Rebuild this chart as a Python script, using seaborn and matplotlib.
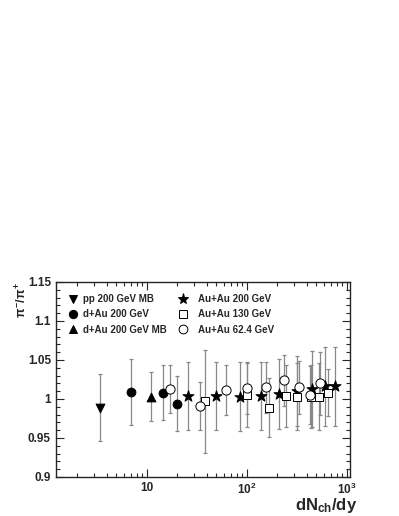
import numpy as np
import pandas as pd
import matplotlib
matplotlib.use("Agg")
import matplotlib.pyplot as plt
from matplotlib.lines import Line2D
from matplotlib.ticker import LogLocator, FixedLocator, MultipleLocator, NullFormatter
import seaborn as sns

# ---- data ----
pp_x = [3.4]
pp_y = [0.989]
pp_e = [0.043]

dau_x = [7.0, 14.7, 20.2]
dau_y = [1.009, 1.008, 0.994]
dau_e = [0.042, 0.035, 0.035]

daumb_x = [11.0]
daumb_y = [1.003]
daumb_e = [0.031]

au200_x = [25.7, 49.7, 85.7, 138, 210, 316, 447, 607, 764]
au200_y = [1.004, 1.004, 1.003, 1.004, 1.006, 1.010, 1.013, 1.016, 1.016]
au200_e = [0.044, 0.044, 0.044, 0.044, 0.045, 0.045, 0.049, 0.051, 0.051]

au130_x = [38.6, 102, 168, 247, 321, 440, 528, 655]
au130_y = [0.997, 1.005, 0.989, 1.004, 1.003, 1.003, 1.003, 1.008]
au130_e = [0.066, 0.041, 0.038, 0.040, 0.043, 0.040, 0.043, 0.030]

au62_x = [17.1, 34.4, 62.1, 102, 158, 236, 336, 430, 541]
au62_y = [1.013, 0.991, 1.012, 1.014, 1.015, 1.024, 1.015, 1.005, 1.020]
au62_e = [0.031, 0.031, 0.032, 0.033, 0.033, 0.033, 0.034, 0.037, 0.040]

labels = ["pp 200 GeV MB", "d+Au 200 GeV", "d+Au 200 GeV MB",
          "Au+Au 200 GeV", "Au+Au 130 GeV", "Au+Au 62.4 GeV"]

sets = [(pp_x, pp_y, pp_e), (dau_x, dau_y, dau_e), (daumb_x, daumb_y, daumb_e),
        (au200_x, au200_y, au200_e), (au130_x, au130_y, au130_e), (au62_x, au62_y, au62_e)]

rows = []
for lab, (xs, ys, es) in zip(labels, sets):
    for x, y, e in zip(xs, ys, es):
        rows.append({"x": x, "y": y, "e": e, "set": lab})
df = pd.DataFrame(rows)

sns.set_style("ticks")
plt.rcParams['font.family'] = ['Liberation Sans', 'DejaVu Sans']
plt.rcParams['mathtext.fontset'] = 'custom'
plt.rcParams['mathtext.rm'] = 'Liberation Sans:bold'
plt.rcParams['mathtext.it'] = 'Liberation Sans:bold'
plt.rcParams['mathtext.bf'] = 'Liberation Sans:bold'

fig = plt.figure(figsize=(3.99, 5.16), dpi=100)
ax = fig.add_axes([0.140, 0.0756, 0.737, 0.378])

# error bars
ax.errorbar(df["x"], df["y"], yerr=df["e"], fmt="none", ecolor="#888888",
            elinewidth=0.9, capsize=1.5, capthick=0.9, zorder=1)

styles = {
    "pp 200 GeV MB": dict(marker="v", s=40, facecolor="black", edgecolor="black"),
    "d+Au 200 GeV": dict(marker="o", s=40, facecolor="black", edgecolor="black"),
    "d+Au 200 GeV MB": dict(marker="^", s=40, facecolor="black", edgecolor="black"),
    "Au+Au 200 GeV": dict(marker="*", s=70, facecolor="black", edgecolor="black"),
    "Au+Au 130 GeV": dict(marker="s", s=32, facecolor="white", edgecolor="black"),
    "Au+Au 62.4 GeV": dict(marker="o", s=44, facecolor="white", edgecolor="black"),
}
for lab in labels:
    st = styles[lab]
    sub = df[df["set"] == lab]
    sns.scatterplot(data=sub, x="x", y="y", ax=ax, marker=st["marker"], s=st["s"],
                    color=st["facecolor"], edgecolor=st["edgecolor"], linewidth=0.7,
                    zorder=3, legend=False)

ax.set_xscale("log")
ax.set_xlim(1.24, 1080)
ax.set_ylim(0.9, 1.15)

ax.xaxis.set_major_locator(FixedLocator([10, 100, 1000]))
ax.set_xticklabels(["10", "$10^{2}$", "$10^{3}$"])
ax.xaxis.set_minor_locator(LogLocator(base=10, subs=np.arange(2, 10)))
ax.xaxis.set_minor_formatter(NullFormatter())
ax.yaxis.set_major_locator(MultipleLocator(0.05))
ax.yaxis.set_minor_locator(MultipleLocator(0.01))
ax.set_yticks([0.9, 0.95, 1.0, 1.05, 1.1, 1.15])
ax.set_yticklabels(["0.9", "0.95", "1", "1.05", "1.1", "1.15"])

ax.tick_params(which="both", direction="in", top=True, right=True, width=0.8)
ax.tick_params(which="major", length=6, labelsize=8.5)
ax.tick_params(which="minor", length=3)
for t in ax.get_xticklabels() + ax.get_yticklabels():
    t.set_fontweight("bold")
for sp in ax.spines.values():
    sp.set_linewidth(1.0)
    sp.set_visible(True)

ax.set_xlabel("dN$_{\\mathregular{ch}}$/dy", loc="right", fontsize=12, fontweight="bold")
ax.xaxis.set_label_coords(1.024, -0.096)
ax.set_ylabel("$\\pi^{-}/\\pi^{+}$", loc="top", fontsize=9, fontweight="bold")
ax.yaxis.set_label_coords(-0.09, 1.0)

handles = []
for lab in labels:
    st = styles[lab]
    ms = np.sqrt(st["s"])
    handles.append(Line2D([], [], linestyle="none", marker=st["marker"], markersize=ms * 0.95,
                          markerfacecolor=st["facecolor"], markeredgecolor=st["edgecolor"],
                          markeredgewidth=0.7))
prop = dict(family="Liberation Sans", weight="bold", size=7)
leg1 = ax.legend(handles[:3], labels[:3], loc="upper left", bbox_to_anchor=(0.041, 0.938),
                 frameon=False, prop=prop, borderpad=0, borderaxespad=0,
                 handletextpad=0.53, labelspacing=0.55, handlelength=1.0)
ax.add_artist(leg1)
leg2 = ax.legend(handles[3:], labels[3:], loc="upper left", bbox_to_anchor=(0.415, 0.938),
                 frameon=False, prop=prop, borderpad=0, borderaxespad=0,
                 handletextpad=1.04, labelspacing=0.55, handlelength=1.0)

fig.savefig("out.png", dpi=100)
